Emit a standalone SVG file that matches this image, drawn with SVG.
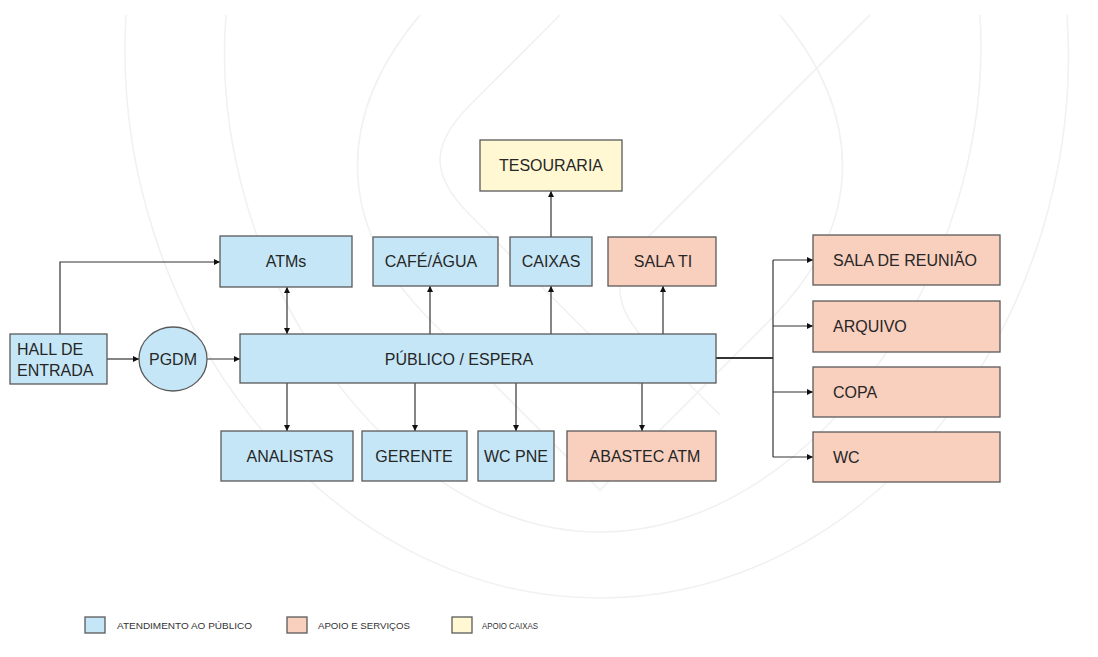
<svg xmlns="http://www.w3.org/2000/svg" width="1098" height="657" viewBox="0 0 1098 657">
<style>
.blue{fill:#c5e6f7;stroke:#5a5a5a;stroke-width:1.3}
.pink{fill:#f9cfbe;stroke:#5a5a5a;stroke-width:1.3}
.yellow{fill:#fff8d3;stroke:#5a5a5a;stroke-width:1.3}
.t{font-family:"Liberation Sans",Arial,sans-serif;font-size:16px;fill:#262626}
.c{text-anchor:middle}
.lg{font-family:"Liberation Sans",Arial,sans-serif;font-size:9.5px;fill:#333}
.wm{fill:none;stroke:#f1f1f1;stroke-width:1.6}
.ln{fill:none;stroke:#333;stroke-width:1.2}
</style>
<defs>
<marker id="ah" viewBox="0 0 10 10" refX="10" refY="5" markerWidth="6" markerHeight="6" orient="auto-start-reverse" markerUnits="userSpaceOnUse">
<path d="M0,0 L10,5 L0,10 z" fill="#111"/>
</marker>
</defs>
<rect width="1098" height="657" fill="#ffffff"/>
<g id="watermark">
<path class="wm" d="M126,15 C108,310 320,598 600,598 C880,598 1088,310 1067,15"/>
<path class="wm" d="M226,15 C206,270 390,532 600,532 C810,532 996,270 980,15"/>
<path class="wm" d="M420,15 C340,110 330,220 430,320 L600,490 L770,320 C870,220 860,110 780,15"/>
<path class="wm" d="M560,15 L470,105 C430,145 430,175 470,215 L640,385"/>
<path class="wm" d="M870,15 L650,235 C610,275 610,305 650,345 L720,415"/>
</g>
<g id="connectors">
<path class="ln" d="M60,334 V262 H220" marker-end="url(#ah)"/>
<path class="ln" d="M107,359 H139" marker-end="url(#ah)"/>
<path class="ln" d="M207,359 H240" marker-end="url(#ah)"/>
<path class="ln" d="M287,287 V334" marker-start="url(#ah)" marker-end="url(#ah)"/>
<path class="ln" d="M430,334 V286" marker-end="url(#ah)"/>
<path class="ln" d="M551,334 V286" marker-end="url(#ah)"/>
<path class="ln" d="M551,237 V191" marker-end="url(#ah)"/>
<path class="ln" d="M663,334 V286" marker-end="url(#ah)"/>
<path class="ln" d="M287,383 V431" marker-end="url(#ah)"/>
<path class="ln" d="M415,383 V431" marker-end="url(#ah)"/>
<path class="ln" d="M516,383 V431" marker-end="url(#ah)"/>
<path class="ln" d="M642,383 V431" marker-end="url(#ah)"/>
<path class="ln" d="M716,358 H773" style="stroke-width:1.8"/>
<path class="ln" d="M773,260 V457"/>
<path class="ln" d="M773,260 H813" marker-end="url(#ah)"/>
<path class="ln" d="M773,326 H813" marker-end="url(#ah)"/>
<path class="ln" d="M773,392 H813" marker-end="url(#ah)"/>
<path class="ln" d="M773,457 H813" marker-end="url(#ah)"/>
</g>
<g id="hall"><rect class="blue" x="10" y="334" width="97" height="50"/><text class="t" x="17" y="355">HALL DE</text><text class="t" x="17" y="376">ENTRADA</text></g>
<g id="pgdm"><ellipse class="blue" cx="173" cy="359" rx="34" ry="32"/><text class="t c" x="173" y="365">PGDM</text></g>
<g id="publico"><rect class="blue" x="240" y="334" width="476" height="49"/><text class="t c" x="459" y="365">PÚBLICO / ESPERA</text></g>
<g id="atms"><rect class="blue" x="220" y="236" width="132" height="51"/><text class="t c" x="286" y="267">ATMs</text></g>
<g id="cafe"><rect class="blue" x="373" y="237" width="125" height="49"/><text class="t c" x="431" y="267">CAFÉ/ÁGUA</text></g>
<g id="caixas"><rect class="blue" x="510" y="237" width="82" height="49"/><text class="t c" x="551" y="267">CAIXAS</text></g>
<g id="salati"><rect class="pink" x="608" y="237" width="108" height="49"/><text class="t c" x="663" y="267">SALA TI</text></g>
<g id="tesouraria"><rect class="yellow" x="480" y="140" width="142" height="51"/><text class="t c" x="551" y="171">TESOURARIA</text></g>
<g id="analistas"><rect class="blue" x="221" y="431" width="132" height="50"/><text class="t c" x="290" y="462">ANALISTAS</text></g>
<g id="gerente"><rect class="blue" x="362" y="431" width="105" height="50"/><text class="t c" x="414" y="462">GERENTE</text></g>
<g id="wcpne"><rect class="blue" x="478" y="431" width="76" height="50"/><text class="t c" x="516" y="462">WC PNE</text></g>
<g id="abastec"><rect class="pink" x="567" y="431" width="149" height="50"/><text class="t c" x="645" y="462">ABASTEC ATM</text></g>
<g id="reuniao"><rect class="pink" x="813" y="235" width="187" height="50"/><text class="t" x="833" y="266">SALA DE REUNIÃO</text></g>
<g id="arquivo"><rect class="pink" x="813" y="301" width="187" height="51"/><text class="t" x="833" y="332">ARQUIVO</text></g>
<g id="copa"><rect class="pink" x="813" y="367" width="187" height="50"/><text class="t" x="833" y="398">COPA</text></g>
<g id="wc"><rect class="pink" x="813" y="432" width="187" height="50"/><text class="t" x="833" y="463">WC</text></g>
<g id="legend">
<rect class="blue" x="85" y="617" width="20" height="16"/><text class="lg" x="117" y="629" textLength="135" lengthAdjust="spacingAndGlyphs">ATENDIMENTO AO PÚBLICO</text>
<rect class="pink" x="287" y="617" width="20" height="16"/><text class="lg" x="318" y="629" textLength="92" lengthAdjust="spacingAndGlyphs">APOIO E SERVIÇOS</text>
<rect class="yellow" x="452" y="617" width="20" height="16"/><text class="lg" x="482" y="629" textLength="56" lengthAdjust="spacingAndGlyphs">APOIO CAIXAS</text>
</g>
</svg>
